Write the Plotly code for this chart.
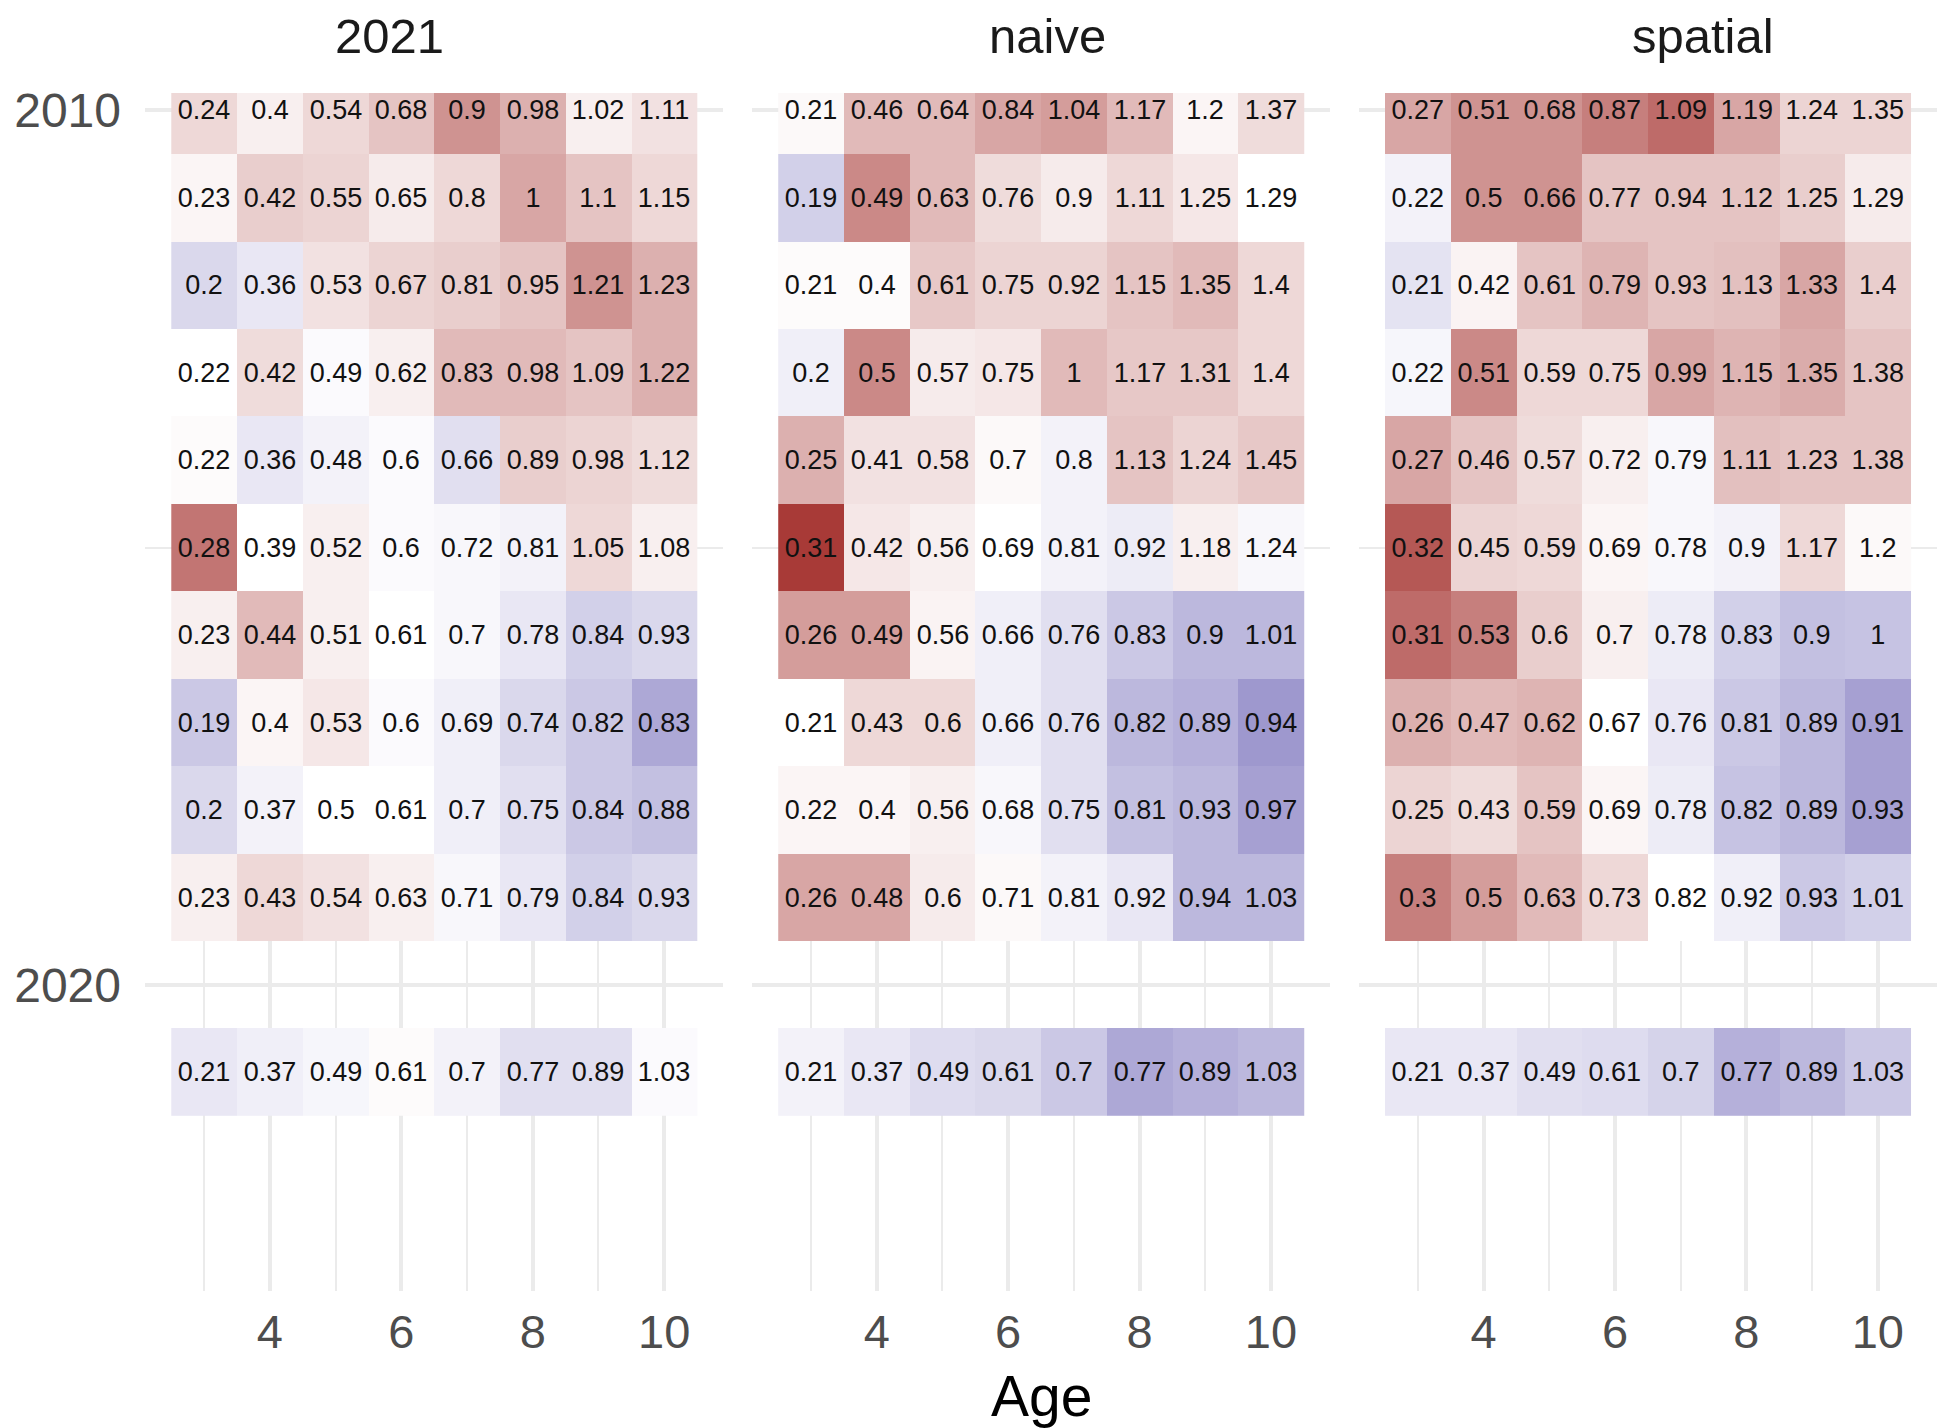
import plotly.graph_objects as go

# Weight-at-age (kg) by year, ages 3-10, for three estimation approaches
ages = [3, 4, 5, 6, 7, 8, 9, 10]
years = [2010, 2011, 2012, 2013, 2014, 2015, 2016, 2017, 2018, 2019, 2021]
panel_names = ["2021", "naive", "spatial"]
year_ticks = [2010, 2020]
age_ticks = [4, 6, 8, 10]

waa_2021 = [
    [0.24, 0.40, 0.54, 0.68, 0.90, 0.98, 1.02, 1.11],
    [0.23, 0.42, 0.55, 0.65, 0.80, 1.00, 1.10, 1.15],
    [0.20, 0.36, 0.53, 0.67, 0.81, 0.95, 1.21, 1.23],
    [0.22, 0.42, 0.49, 0.62, 0.83, 0.98, 1.09, 1.22],
    [0.22, 0.36, 0.48, 0.60, 0.66, 0.89, 0.98, 1.12],
    [0.28, 0.39, 0.52, 0.60, 0.72, 0.81, 1.05, 1.08],
    [0.23, 0.44, 0.51, 0.61, 0.70, 0.78, 0.84, 0.93],
    [0.19, 0.40, 0.53, 0.60, 0.69, 0.74, 0.82, 0.83],
    [0.20, 0.37, 0.50, 0.61, 0.70, 0.75, 0.84, 0.88],
    [0.23, 0.43, 0.54, 0.63, 0.71, 0.79, 0.84, 0.93],
    [0.21, 0.37, 0.49, 0.61, 0.70, 0.77, 0.89, 1.03],
]
waa_naive = [
    [0.21, 0.46, 0.64, 0.84, 1.04, 1.17, 1.20, 1.37],
    [0.19, 0.49, 0.63, 0.76, 0.90, 1.11, 1.25, 1.29],
    [0.21, 0.40, 0.61, 0.75, 0.92, 1.15, 1.35, 1.40],
    [0.20, 0.50, 0.57, 0.75, 1.00, 1.17, 1.31, 1.40],
    [0.25, 0.41, 0.58, 0.70, 0.80, 1.13, 1.24, 1.45],
    [0.31, 0.42, 0.56, 0.69, 0.81, 0.92, 1.18, 1.24],
    [0.26, 0.49, 0.56, 0.66, 0.76, 0.83, 0.90, 1.01],
    [0.21, 0.43, 0.60, 0.66, 0.76, 0.82, 0.89, 0.94],
    [0.22, 0.40, 0.56, 0.68, 0.75, 0.81, 0.93, 0.97],
    [0.26, 0.48, 0.60, 0.71, 0.81, 0.92, 0.94, 1.03],
    [0.21, 0.37, 0.49, 0.61, 0.70, 0.77, 0.89, 1.03],
]
waa_spatial = [
    [0.27, 0.51, 0.68, 0.87, 1.09, 1.19, 1.24, 1.35],
    [0.22, 0.50, 0.66, 0.77, 0.94, 1.12, 1.25, 1.29],
    [0.21, 0.42, 0.61, 0.79, 0.93, 1.13, 1.33, 1.40],
    [0.22, 0.51, 0.59, 0.75, 0.99, 1.15, 1.35, 1.38],
    [0.27, 0.46, 0.57, 0.72, 0.79, 1.11, 1.23, 1.38],
    [0.32, 0.45, 0.59, 0.69, 0.78, 0.90, 1.17, 1.20],
    [0.31, 0.53, 0.60, 0.70, 0.78, 0.83, 0.90, 1.00],
    [0.26, 0.47, 0.62, 0.67, 0.76, 0.81, 0.89, 0.91],
    [0.25, 0.43, 0.59, 0.69, 0.78, 0.82, 0.89, 0.93],
    [0.30, 0.50, 0.63, 0.73, 0.82, 0.92, 0.93, 1.01],
    [0.21, 0.37, 0.49, 0.61, 0.70, 0.77, 0.89, 1.03],
]

# Scaled anomaly used for the tile fill (-1 = well below typical, +1 = well above)
anom_2021 = [
    [0.20, 0.08, 0.20, 0.30, 0.55, 0.40, 0.08, 0.15],
    [0.05, 0.25, 0.22, 0.10, 0.20, 0.45, 0.30, 0.20],
    [-0.25, -0.15, 0.15, 0.22, 0.25, 0.30, 0.55, 0.40],
    [0.00, 0.18, -0.03, 0.08, 0.35, 0.35, 0.30, 0.40],
    [0.02, -0.15, -0.08, -0.03, -0.20, 0.25, 0.22, 0.18],
    [0.70, 0.00, 0.08, -0.03, -0.05, -0.08, 0.20, 0.08],
    [0.08, 0.35, 0.08, 0.00, -0.05, -0.15, -0.30, -0.25],
    [-0.35, 0.05, 0.12, -0.03, -0.10, -0.25, -0.35, -0.55],
    [-0.25, -0.08, 0.00, 0.00, -0.10, -0.20, -0.35, -0.40],
    [0.08, 0.20, 0.15, 0.08, -0.05, -0.15, -0.30, -0.25],
    [-0.15, -0.10, -0.06, 0.02, -0.08, -0.20, -0.20, -0.03],
]
anom_naive = [
    [0.03, 0.35, 0.35, 0.45, 0.50, 0.35, 0.05, 0.18],
    [-0.30, 0.60, 0.35, 0.18, 0.10, 0.20, 0.12, 0.00],
    [0.02, 0.02, 0.28, 0.22, 0.22, 0.30, 0.35, 0.20],
    [-0.10, 0.60, 0.10, 0.12, 0.35, 0.28, 0.28, 0.20],
    [0.40, 0.15, 0.15, 0.03, -0.08, 0.30, 0.22, 0.28],
    [1.00, 0.12, 0.08, 0.00, -0.08, -0.12, 0.08, -0.05],
    [0.50, 0.50, 0.06, -0.10, -0.20, -0.35, -0.45, -0.45],
    [0.00, 0.20, 0.20, -0.10, -0.20, -0.45, -0.50, -0.65],
    [0.05, 0.05, 0.08, -0.05, -0.20, -0.40, -0.45, -0.60],
    [0.45, 0.45, 0.10, 0.03, -0.08, -0.15, -0.45, -0.45],
    [-0.08, -0.15, -0.22, -0.25, -0.35, -0.55, -0.50, -0.45],
]
anom_spatial = [
    [0.45, 0.55, 0.55, 0.65, 0.75, 0.45, 0.22, 0.22],
    [-0.08, 0.55, 0.55, 0.30, 0.30, 0.30, 0.25, 0.10],
    [-0.18, 0.06, 0.30, 0.38, 0.30, 0.32, 0.45, 0.25],
    [-0.06, 0.60, 0.20, 0.20, 0.45, 0.38, 0.42, 0.30],
    [0.45, 0.30, 0.18, 0.08, -0.05, 0.32, 0.30, 0.30],
    [0.85, 0.22, 0.20, 0.05, -0.05, -0.08, 0.20, 0.03],
    [0.75, 0.65, 0.25, 0.08, -0.12, -0.30, -0.40, -0.38],
    [0.40, 0.35, 0.38, 0.00, -0.15, -0.35, -0.45, -0.60],
    [0.22, 0.18, 0.30, 0.05, -0.12, -0.38, -0.45, -0.60],
    [0.65, 0.50, 0.35, 0.20, 0.00, -0.10, -0.35, -0.30],
    [-0.15, -0.15, -0.20, -0.22, -0.28, -0.50, -0.45, -0.35],
]

panel_values = [waa_2021, waa_naive, waa_spatial]
panel_fill = [anom_2021, anom_naive, anom_spatial]

# Full run of years so every tile is one year tall (no data for 2020)
grid_years = list(range(years[0], years[-1] + 1))


def to_grid(rows):
    lookup = dict(zip(years, rows))
    return [lookup.get(y, [None] * len(ages)) for y in grid_years]


def fmt(v):
    return "" if v is None else f"{v:g}"


FONT = "Liberation Sans, Arial, Helvetica, sans-serif"
GRID = "#EBEBEB"
colorscale = [[0.0, "#6A61B4"], [0.5, "#FFFFFF"], [1.0, "#A83A37"]]

domains = [[0.0, 0.3227], [0.3387, 0.6613], [0.6773, 1.0]]
fig = go.Figure()

for i, (name, vals, fill) in enumerate(zip(panel_names, panel_values, panel_fill)):
    sfx = "" if i == 0 else str(i + 1)
    vgrid = to_grid(vals)
    fgrid = to_grid(fill)
    text = [[fmt(v) for v in row] for row in vgrid]
    fig.add_trace(go.Heatmap(
        x=ages, y=grid_years, z=fgrid, text=text,
        texttemplate="%{text}",
        textfont=dict(family=FONT, size=27, color="#111111"),
        colorscale=colorscale, zmin=-1, zmax=1, showscale=False,
        hoverinfo="skip", xaxis="x" + sfx, yaxis="y" + sfx,
    ))

    fig.update_layout(**{
        "xaxis" + sfx: dict(
            domain=domains[i], anchor="y" + sfx, range=[2.1, 10.9],
            tickmode="array", tickvals=age_ticks, ticks="",
            showgrid=True, gridcolor=GRID, gridwidth=4, zeroline=False,
            showline=False, tickfont=dict(family=FONT, size=47, color="#4D4D4D"),
            ticklabelstandoff=9,
            minor=dict(tickmode="array", tickvals=[3, 5, 7, 9], showgrid=True,
                       gridcolor=GRID, gridwidth=2, ticks=""),
        ),
        "yaxis" + sfx: dict(
            domain=[0, 1], anchor="x" + sfx, range=[2023.5, 2009.8],
            tickmode="array", tickvals=year_ticks, ticks="",
            showticklabels=(i == 0),
            showgrid=True, gridcolor=GRID, gridwidth=4, zeroline=False,
            showline=False, tickfont=dict(family=FONT, size=48, color="#4D4D4D"),
            ticklabelstandoff=23,
            minor=dict(tickmode="array", tickvals=[2015], showgrid=True,
                       gridcolor=GRID, gridwidth=2, ticks=""),
        ),
    })

# Facet strip labels
strip_x = [0.4227, 0.511, 0.596]
for i, name in enumerate(panel_names):
    sfx = "" if i == 0 else str(i + 1)
    fig.add_annotation(
        text=name, xref="x" + sfx + " domain", yref="y" + sfx + " domain",
        x=strip_x[i], y=1, xanchor="center", yanchor="middle", yshift=57,
        showarrow=False, font=dict(family=FONT, size=49, color="#1A1A1A"),
    )

# Shared x-axis title
fig.add_annotation(
    text="Age", xref="x2 domain", yref="paper", x=0.5, y=0,
    xanchor="center", yanchor="middle", yshift=-105,
    showarrow=False, font=dict(family=FONT, size=57, color="#000000"),
)

fig.update_layout(
    width=1937, height=1428,
    margin=dict(l=145, r=0, t=93, b=137),
    paper_bgcolor="#FFFFFF", plot_bgcolor="#FFFFFF",
    showlegend=False,
    font=dict(family=FONT),
)

fig.write_html("out.html")
